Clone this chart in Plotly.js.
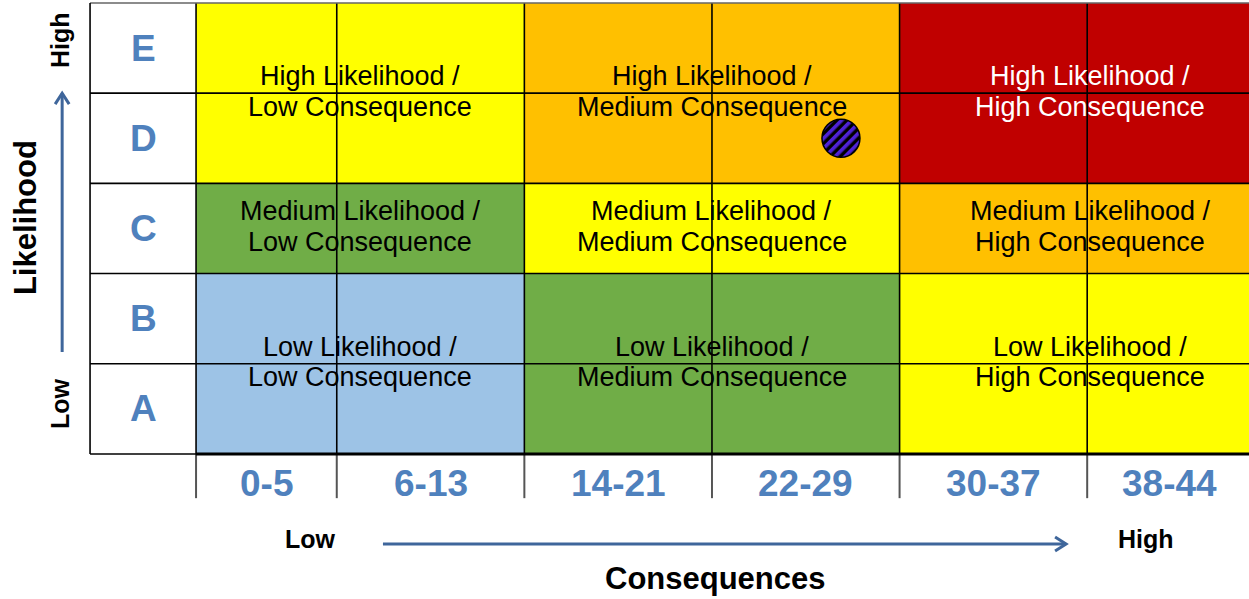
<!DOCTYPE html>
<html><head><meta charset="utf-8">
<script src="https://cdn.plot.ly/plotly-3.0.1.min.js"></script>
<style>html,body{margin:0;padding:0;background:#fff}#chart{width:1249px;height:599px}</style>
</head><body><div id="chart"></div>
<script>
// ---- data ----
const likelihoodLevels = ['A', 'B', 'C', 'D', 'E'];
const consequenceBands = ['0-5', '6-13', '14-21', '22-29', '30-37', '38-44'];
// risk level per cell, rows A..E, columns per consequence band
const riskRowA = [1, 1, 2, 2, 3, 3];
const riskRowB = [1, 1, 2, 2, 3, 3];
const riskRowC = [2, 2, 3, 3, 4, 4];
const riskRowD = [3, 3, 4, 4, 5, 5];
const riskRowE = [3, 3, 4, 4, 5, 5];
const riskColors = ['#9DC3E6', '#70AD47', '#FFFF00', '#FFC000', '#C00000'];
const groupNames = ['Low', 'Medium', 'High'];
const consequenceGroupBands = [[0, 1], [2, 3], [4, 5]];   // band index ranges
const likelihoodGroupRows = [[0, 1], [2, 2], [3, 4]];     // row index ranges
const riskPointConsequence = [27];
const riskPointLikelihood = ['D'];

// ---- derived ----
const bandLo = consequenceBands.map(b => +b.split('-')[0]);
const bandHi = consequenceBands.map(b => +b.split('-')[1]);
const xEdges = bandLo.map(v => v - 0.5).concat([bandHi[bandHi.length - 1] + 0.5]);
const yEdges = likelihoodLevels.map((_, i) => i - 0.5).concat([likelihoodLevels.length - 0.5]);
const z = [riskRowA, riskRowB, riskRowC, riskRowD, riskRowE];
const n = riskColors.length;
const colorscale = [];
riskColors.forEach((c, i) => { colorscale.push([i / n, c]); colorscale.push([(i + 1) / n, c]); });

const X0 = xEdges[0], X1 = xEdges[xEdges.length - 1];
const Y0 = yEdges[0], Y1 = yEdges[yEdges.length - 1];
const labelColLeft = X0 - 4.52;
const labelRowBottom = Y0 - 0.49;
const FONT = 'Liberation Sans, Arial, sans-serif';
const BLUE = '#4F81BD';
const ARROW = '#3F669B';

const traces = [
  { type: 'heatmap', x: xEdges, y: yEdges, z: z, zmin: 0.5, zmax: n + 0.5,
    colorscale: colorscale, showscale: false, hoverinfo: 'skip' },
  { type: 'scatter', mode: 'markers', x: riskPointConsequence,
    y: riskPointLikelihood.map(l => likelihoodLevels.indexOf(l)),
    marker: { symbol: 'circle', size: 38, color: '#4F22D6', line: { color: '#000', width: 1.5 } },
    hoverinfo: 'skip', showlegend: false }
];

const shapes = [];
// vertical grid lines inside the colored matrix
xEdges.forEach((x, i) => {
  shapes.push({ type: 'line', x0: x, x1: x, y0: Y0, y1: Y1, line: { color: '#000', width: 1.6 }, layer: 'above' });
  if (i < xEdges.length - 1)
    shapes.push({ type: 'line', x0: x, x1: x, y0: labelRowBottom, y1: Y0, line: { color: '#555', width: 2 }, layer: 'above' });
});
// horizontal grid lines
yEdges.forEach((y, i) => {
  const c = i === yEdges.length - 1 ? '#666' : '#000';
  shapes.push({ type: 'line', x0: labelColLeft, x1: X1 + 1, y0: y, y1: y, line: { color: c, width: 1.6 }, layer: 'above' });
  if (i === 0) shapes.push({ type: 'line', x0: X0, x1: X1 + 1, y0: y, y1: y, line: { color: '#000', width: 3 }, layer: 'above' });
});
shapes.push({ type: 'line', x0: labelColLeft, x1: labelColLeft, y0: Y0, y1: Y1, line: { color: '#000', width: 1.6 }, layer: 'above' });

// arrows (line + open chevron)
const vArrowX = -6.21, vArrowY0 = 0.63, vArrowY1 = 3.50;
const hArrowY = -1.498, hArrowX0 = 7.47, hArrowX1 = 36.6;
shapes.push({ type: 'line', x0: vArrowX, x1: vArrowX, y0: vArrowY0, y1: vArrowY1, line: { color: ARROW, width: 3 } });
shapes.push({ type: 'path', xsizemode: 'pixel', ysizemode: 'pixel', xanchor: vArrowX, yanchor: vArrowY1,
  path: 'M -7 -11 L 0 0 L 7 -11', line: { color: ARROW, width: 3 } });
shapes.push({ type: 'line', x0: hArrowX0, x1: hArrowX1, y0: hArrowY, y1: hArrowY, line: { color: ARROW, width: 3 } });
shapes.push({ type: 'path', xsizemode: 'pixel', ysizemode: 'pixel', xanchor: hArrowX1, yanchor: hArrowY,
  path: 'M -11 7 L 0 0 L -11 -7', line: { color: ARROW, width: 3 } });

const annotations = [];
// zone labels (two lines each)
likelihoodGroupRows.forEach((rows, li) => {
  consequenceGroupBands.forEach((bands, ci) => {
    const xc = (xEdges[bands[0]] + xEdges[bands[1] + 1]) / 2;
    const yc = (yEdges[rows[0]] + yEdges[rows[1] + 1]) / 2;
    const level = z[rows[0]][bands[0]];
    const f = { family: FONT, size: 27, color: level === 5 ? '#fff' : '#000' };
    const xs = ci === 2 ? 15 : 0;
    annotations.push({ x: xc, y: yc, xshift: xs, yshift: 17, text: groupNames[li] + ' Likelihood /', showarrow: false, font: f });
    annotations.push({ x: xc, y: yc, xshift: xs, yshift: -13.5, text: groupNames[ci] + ' Consequence', showarrow: false, font: f });
  });
});
// likelihood letters
likelihoodLevels.forEach((l, i) => annotations.push({ x: (labelColLeft + X0) / 2, y: i, text: '<b>' + l + '</b>',
  showarrow: false, font: { family: FONT, size: 37, color: BLUE } }));
// consequence bands
consequenceBands.forEach((b, i) => annotations.push({ x: (xEdges[i] + xEdges[i + 1]) / 2, y: Y0 - 0.33, yshift: 0,
  text: '<b>' + b + '</b>', showarrow: false, font: { family: FONT, size: 37, color: BLUE } }));
// axis titles
annotations.push({ x: 4.36, y: hArrowY + 0.06, text: '<b>Low</b>', showarrow: false, font: { family: FONT, size: 25, color: '#000' } });
annotations.push({ x: 40.0, y: hArrowY + 0.06, text: '<b>High</b>', showarrow: false, font: { family: FONT, size: 25, color: '#000' } });
annotations.push({ x: 21.67, y: -1.886, text: '<b>Consequences</b>', showarrow: false, font: { family: FONT, size: 31, color: '#000' } });
annotations.push({ x: -7.79, y: 2.116, text: '<b>Likelihood</b>', textangle: -90, showarrow: false, font: { family: FONT, size: 31, color: '#000' } });
annotations.push({ x: -6.30, y: 4.09, text: '<b>High</b>', textangle: -90, showarrow: false, font: { family: FONT, size: 25, color: '#000' } });
annotations.push({ x: -6.30, y: 0.054, text: '<b>Low</b>', textangle: -90, showarrow: false, font: { family: FONT, size: 25, color: '#000' } });

const layout = {
  width: 1249, height: 599, margin: { l: 0, r: 0, t: 0, b: 0 },
  paper_bgcolor: '#fff', plot_bgcolor: '#fff', showlegend: false,
  xaxis: { range: [-8.86, 44.4], visible: false, fixedrange: true },
  yaxis: { range: [-2.108, 4.533], visible: false, fixedrange: true },
  shapes: shapes, annotations: annotations, font: { family: FONT }
};

Plotly.newPlot('chart', traces, layout, { staticPlot: true }).then(gd => {
  const svg = gd.querySelector('svg.main-svg');
  const ns = 'http://www.w3.org/2000/svg';
  let defs = svg.querySelector('defs');
  if (!defs) { defs = document.createElementNS(ns, 'defs'); svg.insertBefore(defs, svg.firstChild); }
  const pat = document.createElementNS(ns, 'pattern');
  pat.setAttribute('id', 'riskHatch');
  pat.setAttribute('patternUnits', 'userSpaceOnUse');
  pat.setAttribute('width', '7'); pat.setAttribute('height', '7');
  pat.setAttribute('patternTransform', 'rotate(45)');
  const r1 = document.createElementNS(ns, 'rect');
  r1.setAttribute('width', '7'); r1.setAttribute('height', '7'); r1.setAttribute('fill', '#000');
  const r2 = document.createElementNS(ns, 'rect');
  r2.setAttribute('width', '3.6'); r2.setAttribute('height', '7'); r2.setAttribute('fill', '#4F22D6');
  pat.appendChild(r1); pat.appendChild(r2); defs.appendChild(pat);
  gd.querySelectorAll('.scatterlayer .trace .points path').forEach(p => { p.style.fill = 'url(#riskHatch)'; });
});
</script></body></html>
